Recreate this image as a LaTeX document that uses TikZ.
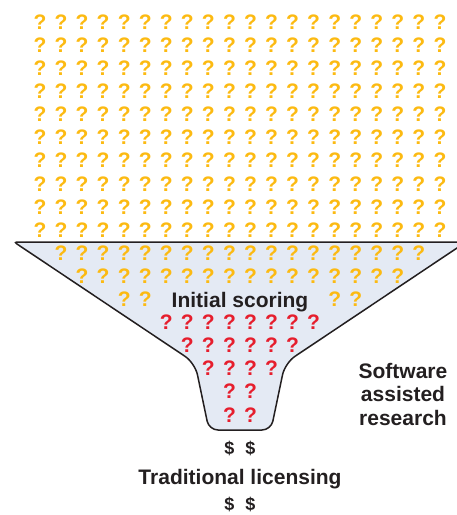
\documentclass[tikz,border=0pt]{standalone}
\usepackage{fontspec}
\setmainfont{Liberation Sans}
\usepackage{tikz}
\usetikzlibrary{positioning}
\definecolor{qyellow}{RGB}{252,186,18}
\definecolor{qred}{RGB}{230,30,45}
\definecolor{funnelfill}{RGB}{228,234,244}
\definecolor{inkdark}{RGB}{35,31,32}
\newcommand{\bigbold}{\fontsize{21}{23.5}\selectfont\bfseries}

\begin{document}
\begin{tikzpicture}[x=1pt,y=-1pt,font=\bigbold,
  funnel/.style={draw=inkdark,line width=1.5pt,fill=funnelfill},
  qyel/.style={text=qyellow,inner sep=0pt},
  qred/.style={text=qred,inner sep=0pt},
  caption/.style={text=inkdark,inner sep=0pt,align=center},
  dollar/.style={caption,font=\fontsize{18}{20}\selectfont\bfseries}]

\useasboundingbox (0,0) rectangle (457,515);

% the funnel
\draw[funnel] (240,242) -- (466,242) [rounded corners=12pt] -- (285,363)
  [rounded corners=9pt] -- (271,430) -- (209,430)
  [rounded corners=12pt] -- (195,363) [rounded corners=3pt] -- (14,242) -- cycle;

% unknowns above and in the mouth
\foreach \r in {0,...,9}
  \foreach \c in {0,...,19}
    \node[qyel] (qy-\r-\c) at ({40+21.05*\c},{22+23.1*\r}) {?};
\foreach \c in {1,...,18}
  \node[qyel] (qy-10-\c) at ({40+21.05*\c},{22+23.1*10}) {?};
\foreach \c in {2,...,17}
  \node[qyel] (qy-11-\c) at ({40+21.05*\c},{22+23.1*11}) {?};
\foreach \c in {4,5,14,15}
  \node[qyel] (qy-12-\c) at ({40+21.05*\c},{22+23.1*12}) {?};

% scored ones in the neck
\foreach \r/\a/\b in {13/6/13,14/7/12,15/8/11,16/9/10,17/9/10}
  \foreach \c in {\a,...,\b}
    \node[qred] (qr-\r-\c) at ({40+21.05*\c},{22+23.1*\r}) {?};

\node[caption,anchor=base] (scoring) at (240,307) {Initial scoring};
\node[caption] (software) at (403,394) {Software\\assisted\\research};

\node[dollar] (dollar-a) at (229.5,448) {\$};
\node[dollar] (dollar-b) at (250.5,448) {\$};
\node[caption,anchor=base] (licensing) at (240,484) {Traditional licensing};
\node[dollar] (dollar-c) at (229.5,504) {\$};
\node[dollar] (dollar-d) at (250.5,504) {\$};
\end{tikzpicture}
\end{document}
